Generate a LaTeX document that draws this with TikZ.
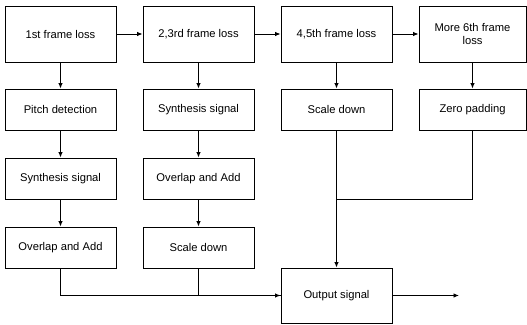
\documentclass[tikz,border=0pt]{standalone}
\usepackage{fontspec}
\setmainfont{Liberation Sans}
\usetikzlibrary{arrows.meta}
\begin{document}
\begin{tikzpicture}[x=1pt,y=-1pt,
  box/.style={draw,line width=0.9pt,minimum width=111pt,minimum height=41pt,inner sep=1pt,align=center,font=\fontsize{11.2}{13.5}\selectfont},
  tall/.style={minimum height=56pt},
  conn/.style={line width=0.9pt},
  arr/.style={conn,-{Latex[length=5.5pt,width=4.5pt]}}]
\useasboundingbox (0,0) rectangle (527,324);
% row 1
\node[box,tall] (f1) at (60.5,34) {1st frame loss};
\node[box,tall] (f2) at (198.5,34) {2,3rd frame loss};
\node[box,tall] (f4) at (336.5,34) {4,5th frame loss};
\node[box,tall,minimum width=107pt] (f6) at (472.5,34) {More 6th frame\\loss};
% row 2
\node[box] (pd) at (60.5,109.5) {Pitch detection};
\node[box] (ss2) at (198.5,109.5) {Synthesis signal};
\node[box] (sd4) at (336.5,109.5) {Scale down};
\node[box,minimum width=107pt] (zp) at (472.5,109.5) {Zero padding};
% row 3
\node[box] (ss1) at (60.5,178.5) {Synthesis signal};
\node[box] (oa2) at (198.5,178.5) {Overlap and Add};
% row 4
\node[box] (oa1) at (60.5,247.5) {Overlap and Add};
\node[box] (sd2) at (198.5,247.5) {Scale down};
% output
\node[box,minimum height=55pt] (out) at (336.5,295.5) {Output signal};
\coordinate (j3) at (336.5,199);
\coordinate (end) at (459,295.5);
% connectors
\draw[arr] (f1) -- (f2);
\draw[arr] (f2) -- (f4);
\draw[arr] (f4) -- (f6);
\draw[arr] (f1) -- (pd);
\draw[arr] (pd) -- (ss1);
\draw[arr] (ss1) -- (oa1);
\draw[arr] (f2) -- (ss2);
\draw[arr] (ss2) -- (oa2);
\draw[arr] (oa2) -- (sd2);
\draw[arr] (f4) -- (sd4);
\draw[arr] (f6) -- (zp);
\draw[arr] (sd4) -- (out);
\draw[conn] (zp.south) |- (j3);
\draw[arr] (oa1.south) |- (out.west);
\draw[conn] (sd2.south) |- (out.west);
\draw[arr] (out) -- (end);
\end{tikzpicture}
\end{document}
